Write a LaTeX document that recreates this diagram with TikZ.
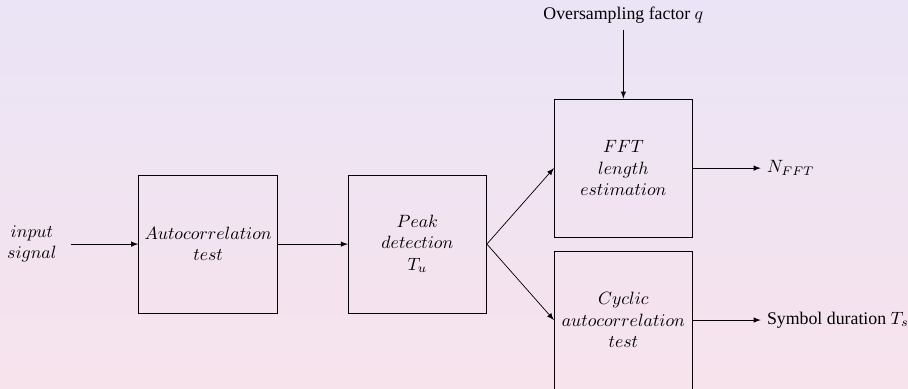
\documentclass[tikz,border=0pt]{standalone}
\usepackage{amsmath}
\usepackage{fontspec}
\newfontfamily\labelfont{Liberation Serif}
\definecolor{bgtop}{RGB}{234,228,246}
\definecolor{bgbottom}{RGB}{247,227,236}
\usetikzlibrary{arrows,positioning}

\begin{document}
\begin{tikzpicture}[auto,node distance=1.38cm,>=latex]
  \tikzset{block/.style={draw,minimum size=2.73cm,align=center}}
  % background
  \shade[top color=bgtop,bottom color=bgbottom] (0,0) rectangle (17.93,-7.68);
  \useasboundingbox (0,0) rectangle (17.93,-7.68);

  \node[block] (auto) at (4.11,-4.82) {$Autocorrelation$\\$test$};
  \node[block,right=of auto] (peak) {$Peak$\\$detection$\\$T_u$};
  \node[block] (fft) at (12.31,-3.32) {$FFT$\\$length$\\$estimation$};
  \node[block] (cyc) at (12.31,-6.32) {$Cyclic$\\$autocorrelation$\\$test$};

  \node[align=center,inner xsep=8pt] (input) at (0.63,-4.82) {$input$\\$signal$};
  \node (osf) at (12.31,-0.30) {\labelfont Oversampling factor $q$};
  \node[right=1.34cm of fft] (nfft) {$N_{FFT}$};
  \node[right=1.34cm of cyc] (tsym) {\labelfont Symbol duration $T_s$};

  \draw[->] (input) -- (auto);
  \draw[->] (auto) -- (peak);
  \draw[->] (peak.east) -- (fft.west);
  \draw[->] (peak.east) -- (cyc.west);
  \draw[->] (osf) -- (fft);
  \draw[->] (fft) -- (nfft);
  \draw[->] (cyc) -- (tsym);
\end{tikzpicture}
\end{document}
